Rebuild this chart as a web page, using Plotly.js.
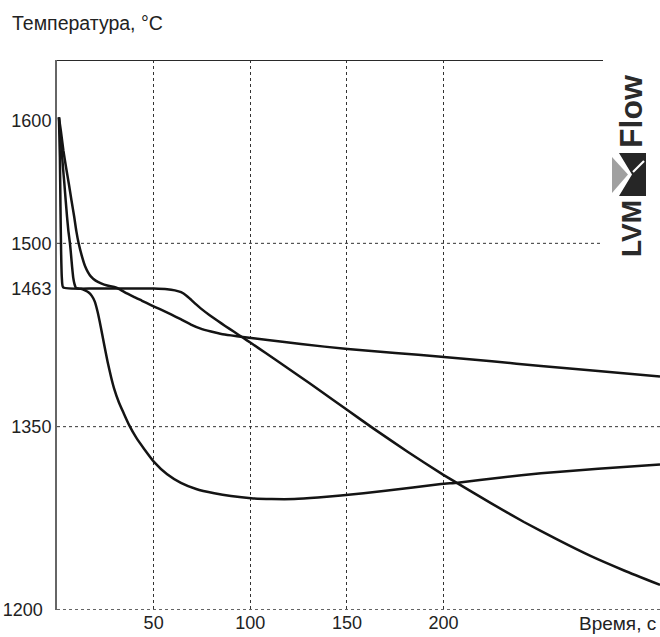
<!DOCTYPE html>
<html>
<head>
<meta charset="utf-8">
<script src="https://cdn.plot.ly/plotly-3.0.1.min.js"></script>
<style>html,body{margin:0;padding:0;background:#fff;}#chart{width:660px;height:637px;}</style>
</head>
<body>
<div id="chart"></div>
<script>
// ---- data ----
const curve1X = [1, 1.5, 1.8, 2.1, 2.5, 3.2, 20, 40, 50, 57, 61, 64.2, 67, 69.3, 72, 74.5, 79, 83.1, 87, 91.6, 96.1, 100.4, 108, 117.4, 126, 134.9, 150.4, 164, 181.4, 198.7, 207.3, 224.5, 241.6, 259, 276.3, 293.4, 312];
const curve1Y = [1603, 1570, 1530, 1495, 1472, 1464, 1463, 1463, 1463, 1462.5, 1461.5, 1460, 1457.2, 1454, 1450, 1446.6, 1441.2, 1436.6, 1432.4, 1427.6, 1422.9, 1418.4, 1410.3, 1400.1, 1390.7, 1380.8, 1363.4, 1348.2, 1329.5, 1311.8, 1303.6, 1287.4, 1272, 1257.5, 1244, 1232.3, 1220.5];

const curve2X = [1, 2, 3.3, 4.7, 6.1, 7.5, 8.9, 10, 11.2, 12.8, 14.6, 16, 17.6, 20, 22.8, 26, 29.6, 32, 34.7, 40, 44, 48.6, 53, 59, 64, 69.3, 74, 79.7, 85, 90, 96.1, 109, 126.2, 150.4, 175, 198.7, 225, 250.4, 280, 312];
const curve2Y = [1603, 1592, 1576, 1562, 1549, 1535, 1521.7, 1510, 1500, 1490, 1481, 1476.5, 1472.7, 1469.5, 1467.3, 1465.5, 1464.3, 1462.8, 1460.3, 1456, 1453, 1449.5, 1446.3, 1441.8, 1437.9, 1433.5, 1430.4, 1427.8, 1425.9, 1424.7, 1423.4, 1420.9, 1417.6, 1413.5, 1410.3, 1407.2, 1403.5, 1399.6, 1395.5, 1391];

const curve3X = [1, 1.6, 2.4, 3.1, 3.8, 4.5, 5.2, 5.9, 6.7, 7.3, 7.8, 8.4, 9, 9.8, 11, 12.4, 14.5, 16.4, 18, 19.5, 21, 22.6, 24.3, 26.2, 28, 29.6, 32, 34.5, 37.4, 41, 45, 50.3, 57, 64.1, 72, 81.4, 90, 100.4, 111, 122.8, 135, 146.9, 170, 198.7, 207.3, 230, 250.4, 280, 312];
const curve3Y = [1603, 1590, 1576, 1562, 1549, 1535, 1521.7, 1510, 1500, 1490, 1481, 1472, 1467, 1463.5, 1463, 1462.8, 1461.5, 1459.8, 1457, 1452.5, 1444, 1432, 1418, 1403, 1390.5, 1381, 1370, 1361, 1351, 1341, 1332, 1321, 1311, 1304, 1299, 1295.5, 1293.2, 1291.4, 1290.8, 1290.8, 1292, 1293.6, 1297.5, 1303.1, 1304.2, 1308.5, 1311.9, 1315.5, 1319];

const xTickVals = [50, 100, 150, 200];
const xTickLabels = ['50', '100', '150', '200'];
const yTickVals = [1200, 1350, 1463, 1500, 1600];
const yTickLabels = ['1200', '1350', '1463', '1500', '1600'];
const yGridVals = [1350, 1500];
const xRange = [0, 312];
const yRange = [1200, 1650];
const chartTitle = 'Температура, °С';
const xAxisTitle = 'Время, с';
const logoLeft = 'LVM';
const logoRight = 'Flow';

// ---- geometry helpers (pixel -> paper) ----
const W = 660, H = 637;
const M = {l: 57, r: 0, t: 60, b: 27};
const PW = W - M.l - M.r, PH = H - M.t - M.b;
const px = v => (v - M.l) / PW;
const py = v => (H - M.b - v) / PH;

const lineStyle = {color: '#141414', width: 2.5, shape: 'spline', smoothing: 0.5};
const traces = [
  {x: curve1X, y: curve1Y, mode: 'lines', line: lineStyle, hoverinfo: 'skip'},
  {x: curve2X, y: curve2Y, mode: 'lines', line: lineStyle, hoverinfo: 'skip'},
  {x: curve3X, y: curve3Y, mode: 'lines', line: lineStyle, hoverinfo: 'skip'}
];

const font = 'Liberation Sans, Arial, sans-serif';
const logoFont = 'Liberation Sans, Arial, sans-serif';
const shapes = [];
yGridVals.forEach(v => shapes.push({type: 'line', xref: 'paper', yref: 'y', x0: 0, x1: 1, y0: v, y1: v,
  line: {color: '#333', width: 1, dash: 'dot'}, layer: 'below'}));
// bottom dotted axis line
shapes.push({type: 'line', xref: 'paper', yref: 'y', x0: 0, x1: 1, y0: yRange[0], y1: yRange[0],
  line: {color: '#333', width: 1.3, dash: 'dot'}, layer: 'above'});
// top border
shapes.push({type: 'line', xref: 'paper', yref: 'y', x0: 0, x1: 1, y0: yRange[1], y1: yRange[1],
  line: {color: '#2a2a2a', width: 2}, layer: 'above'});
// logo background
shapes.push({type: 'rect', xref: 'paper', yref: 'paper', x0: px(603), x1: px(662), y0: py(262), y1: py(48),
  fillcolor: '#ffffff', line: {width: 0}, layer: 'above'});
// logo icon
const P = (a, b) => px(a).toFixed(5) + ',' + py(b).toFixed(5);
shapes.push({type: 'path', xref: 'paper', yref: 'paper', layer: 'above',
  path: 'M' + P(612, 157) + ' L' + P(628, 174.5) + ' L' + P(612, 193) + ' Z',
  fillcolor: '#a0a0a0', line: {width: 0}});
shapes.push({type: 'path', xref: 'paper', yref: 'paper', layer: 'above',
  path: 'M' + P(619, 153) + ' L' + P(646, 153) + ' L' + P(646, 196) + ' L' + P(619, 196) + ' L' + P(632, 174.5) + ' Z',
  fillcolor: '#262626', line: {width: 0}});
shapes.push({type: 'line', xref: 'paper', yref: 'paper', layer: 'above',
  x0: px(633), y0: py(172), x1: px(644), y1: py(161), line: {color: '#ffffff', width: 2.2}});

const annotations = [
  {text: xAxisTitle, xref: 'paper', yref: 'paper', x: px(658), y: py(623), xanchor: 'right', yanchor: 'middle',
   showarrow: false, font: {family: font, size: 19, color: '#222'}},
  {text: logoRight, xref: 'paper', yref: 'paper', x: px(631), y: py(112), xanchor: 'center', yanchor: 'middle',
   textangle: -90, showarrow: false, font: {family: logoFont, size: 32, color: '#2a2a2a', weight: 'bold'}},
  {text: logoLeft, xref: 'paper', yref: 'paper', x: px(631), y: py(229), xanchor: 'center', yanchor: 'middle',
   textangle: -90, showarrow: false, font: {family: logoFont, size: 28, color: '#2a2a2a', weight: 'bold'}}
];

const layout = {
  width: W, height: H,
  margin: M,
  paper_bgcolor: '#ffffff', plot_bgcolor: '#ffffff',
  showlegend: false,
  title: {text: chartTitle, xref: 'container', yref: 'container', x: 12 / W, xanchor: 'left',
          y: 1 - 23 / H, yanchor: 'middle', font: {family: font, size: 19.5, color: '#222'}},
  xaxis: {range: xRange, tickmode: 'array', tickvals: xTickVals, ticktext: xTickLabels,
          showgrid: true, gridcolor: '#333', gridwidth: 1, griddash: 'dot',
          showline: false, zeroline: false, ticks: '', ticklabelstandoff: 0,
          tickfont: {family: font, size: 18, color: '#222'}, fixedrange: true},
  yaxis: {range: yRange, tickmode: 'array', tickvals: yTickVals,
          ticktext: yTickLabels.map((t, i) => yTickVals[i] === yRange[0] ? t + '\u00a0\u2009' : t),
          showgrid: false, showline: true, linecolor: '#666', linewidth: 2, zeroline: false, ticks: '',
          tickfont: {family: font, size: 18, color: '#222'}, fixedrange: true},
  shapes: shapes,
  annotations: annotations
};

Plotly.newPlot('chart', traces, layout, {staticPlot: true, displayModeBar: false});
</script>
</body>
</html>
